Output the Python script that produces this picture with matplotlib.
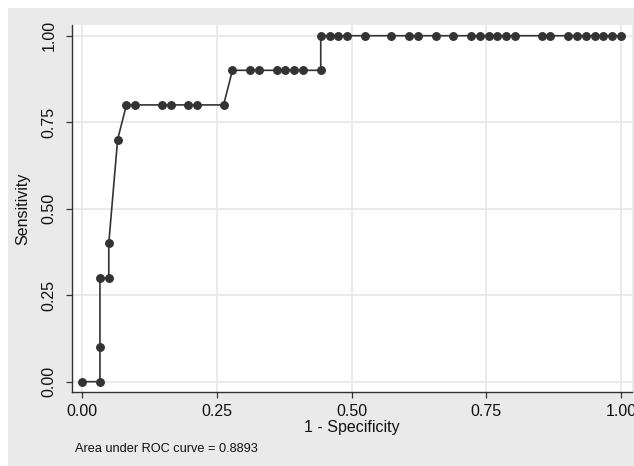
import matplotlib
matplotlib.use("Agg")
import matplotlib.pyplot as plt
from matplotlib.patches import Rectangle

# ROC points: false-positive count out of 61 negatives, sensitivity (10 positives)
n_neg = 61
fp_counts = [0, 2, 2, 2, 3, 3, 4, 5, 6, 9, 10, 12, 13, 16, 17, 19, 20, 22, 23, 24, 25,
             27, 27, 28, 29, 30, 32, 35, 37, 38, 40, 42, 44, 45, 46, 47, 48, 49,
             52, 53, 55, 56, 57, 58, 59, 60, 61]
sensitivity = [0.0, 0.0, 0.1, 0.3, 0.3, 0.4, 0.7, 0.8, 0.8, 0.8, 0.8, 0.8, 0.8, 0.8,
               0.9, 0.9, 0.9, 0.9, 0.9, 0.9, 0.9, 0.9,
               1.0, 1.0, 1.0, 1.0, 1.0, 1.0, 1.0, 1.0, 1.0, 1.0, 1.0, 1.0, 1.0, 1.0,
               1.0, 1.0, 1.0, 1.0, 1.0, 1.0, 1.0, 1.0, 1.0, 1.0, 1.0]
ticks = [0.0, 0.25, 0.5, 0.75, 1.0]
tick_labels = ["0.00", "0.25", "0.50", "0.75", "1.00"]
auc_text = "Area under ROC curve = 0.8893"

one_minus_spec = [c / n_neg for c in fp_counts]

plt.rcParams["font.family"] = ["Liberation Sans", "DejaVu Sans"]
dark = "#333333"
grid_col = "#e8e8e8"
bg_col = "#eaeaea"

W, H = 634, 466
fig = plt.figure(figsize=(W / 100, H / 100), dpi=100)
fig.patch.set_facecolor("white")
fig.patches.append(Rectangle((8 / W, 0), 1 - 8 / W, 1 - 8 / H, transform=fig.transFigure,
                             facecolor=bg_col, edgecolor="none", zorder=-10))

ax = fig.add_axes([72 / W, (H - 392) / H, 560 / W, 367 / H])
ax.set_facecolor("white")
ax.plot(one_minus_spec, sensitivity, color=dark, lw=1.2, marker="o", ms=5.4,
        mfc=dark, mec=dark, zorder=3, clip_on=False)

ax.set_xlim(-0.0191, 1.0204)
ax.set_ylim(-0.0298, 1.031)
ax.set_xticks(ticks)
ax.set_xticklabels(tick_labels)
ax.set_yticks(ticks)
ax.set_yticklabels(tick_labels, rotation=90, va="center")
ax.grid(True, color=grid_col, lw=1.3)
ax.set_axisbelow(True)

for side in ("top", "right"):
    ax.spines[side].set_visible(False)
for side in ("left", "bottom"):
    ax.spines[side].set_color(dark)
    ax.spines[side].set_linewidth(1.0)
ax.tick_params(axis="both", direction="out", length=4.3, width=0.9, color=dark,
               labelsize=11.5, labelcolor="#111111")
ax.tick_params(axis="x", pad=4)
ax.tick_params(axis="y", pad=7)

ax.set_xlabel("1 - Specificity", fontsize=11.5, color="#111111", labelpad=1)
ax.set_ylabel("Sensitivity", fontsize=11.5, color="#111111", labelpad=8)

fig.text(75 / W, (H - 452) / H, auc_text, fontsize=9.2, color="#111111", va="baseline")

fig.savefig("out.png", dpi=100)
